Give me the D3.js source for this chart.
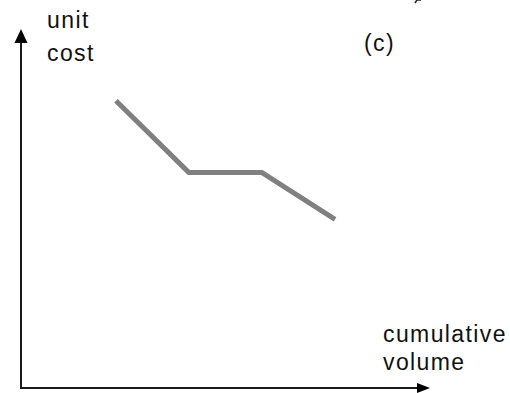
<!DOCTYPE html>
<html><head><meta charset="utf-8">
<script src="https://cdn.jsdelivr.net/npm/d3@7"></script>
<style>body{margin:0;background:#fff}svg{display:block}text{font-family:"Liberation Sans",Arial,sans-serif;fill:#111;letter-spacing:1.4px}</style>
</head><body><div id="chart"></div>
<script>
const volume = [1.3, 2.3, 3.3, 4.3];
const cost = [8.0, 6.0, 6.0, 4.7];
const yLabel = ["unit", "cost"];
const xLabel = ["cumulative", "volume"];
const panelLabel = "(c)";

const W = 510, H = 393;
const svg = d3.select("#chart").append("svg").attr("width", W).attr("height", H);
const x = d3.scaleLinear().domain([0, 5.6]).range([21, 430]);
const y = d3.scaleLinear().domain([0, 10]).range([388, 29]);

const axisColor = "#1a1a1a";
// y axis
svg.append("line").attr("x1", x(0)).attr("x2", x(0)).attr("y1", y(0) + 1).attr("y2", y(10) + 12)
  .attr("stroke", axisColor).attr("stroke-width", 2);
svg.append("path").attr("d", `M${x(0)},${y(10)} L${x(0)-6.5},${y(10)+14} L${x(0)+6.5},${y(10)+14} Z`).attr("fill", "#000");
// x axis
svg.append("line").attr("x1", x(0) - 1).attr("x2", x(5.6) - 12).attr("y1", y(0)).attr("y2", y(0))
  .attr("stroke", axisColor).attr("stroke-width", 2);
svg.append("path").attr("d", `M${x(5.6)},${y(0)} L${x(5.6)-13},${y(0)-5} L${x(5.6)-13},${y(0)+5} Z`).attr("fill", "#000");

// data line
const data = volume.map((v, i) => ({v, c: cost[i]}));
svg.append("path").datum(data)
  .attr("d", d3.line().x(d => x(d.v)).y(d => y(d.c)))
  .attr("fill", "none").attr("stroke", "#808080").attr("stroke-width", 5).attr("stroke-linejoin", "round");

// labels
const fs = 23;
svg.append("text").attr("x", 47).attr("y", 28).attr("font-size", fs).text(yLabel[0]);
svg.append("text").attr("x", 47).attr("y", 61).attr("font-size", fs).text(yLabel[1]);
svg.append("text").attr("x", 383).attr("y", 342).attr("font-size", fs).text(xLabel[0]);
svg.append("text").attr("x", 383).attr("y", 370).attr("font-size", fs).text(xLabel[1]);
svg.append("text").attr("x", 364).attr("y", 51).attr("font-size", fs).text(panelLabel);
// small cut-off mark at top edge
svg.append("path").attr("d", "M415,3 L417,0 L421,0").attr("fill", "none").attr("stroke", "#222").attr("stroke-width", 1.5);
</script></body></html>
